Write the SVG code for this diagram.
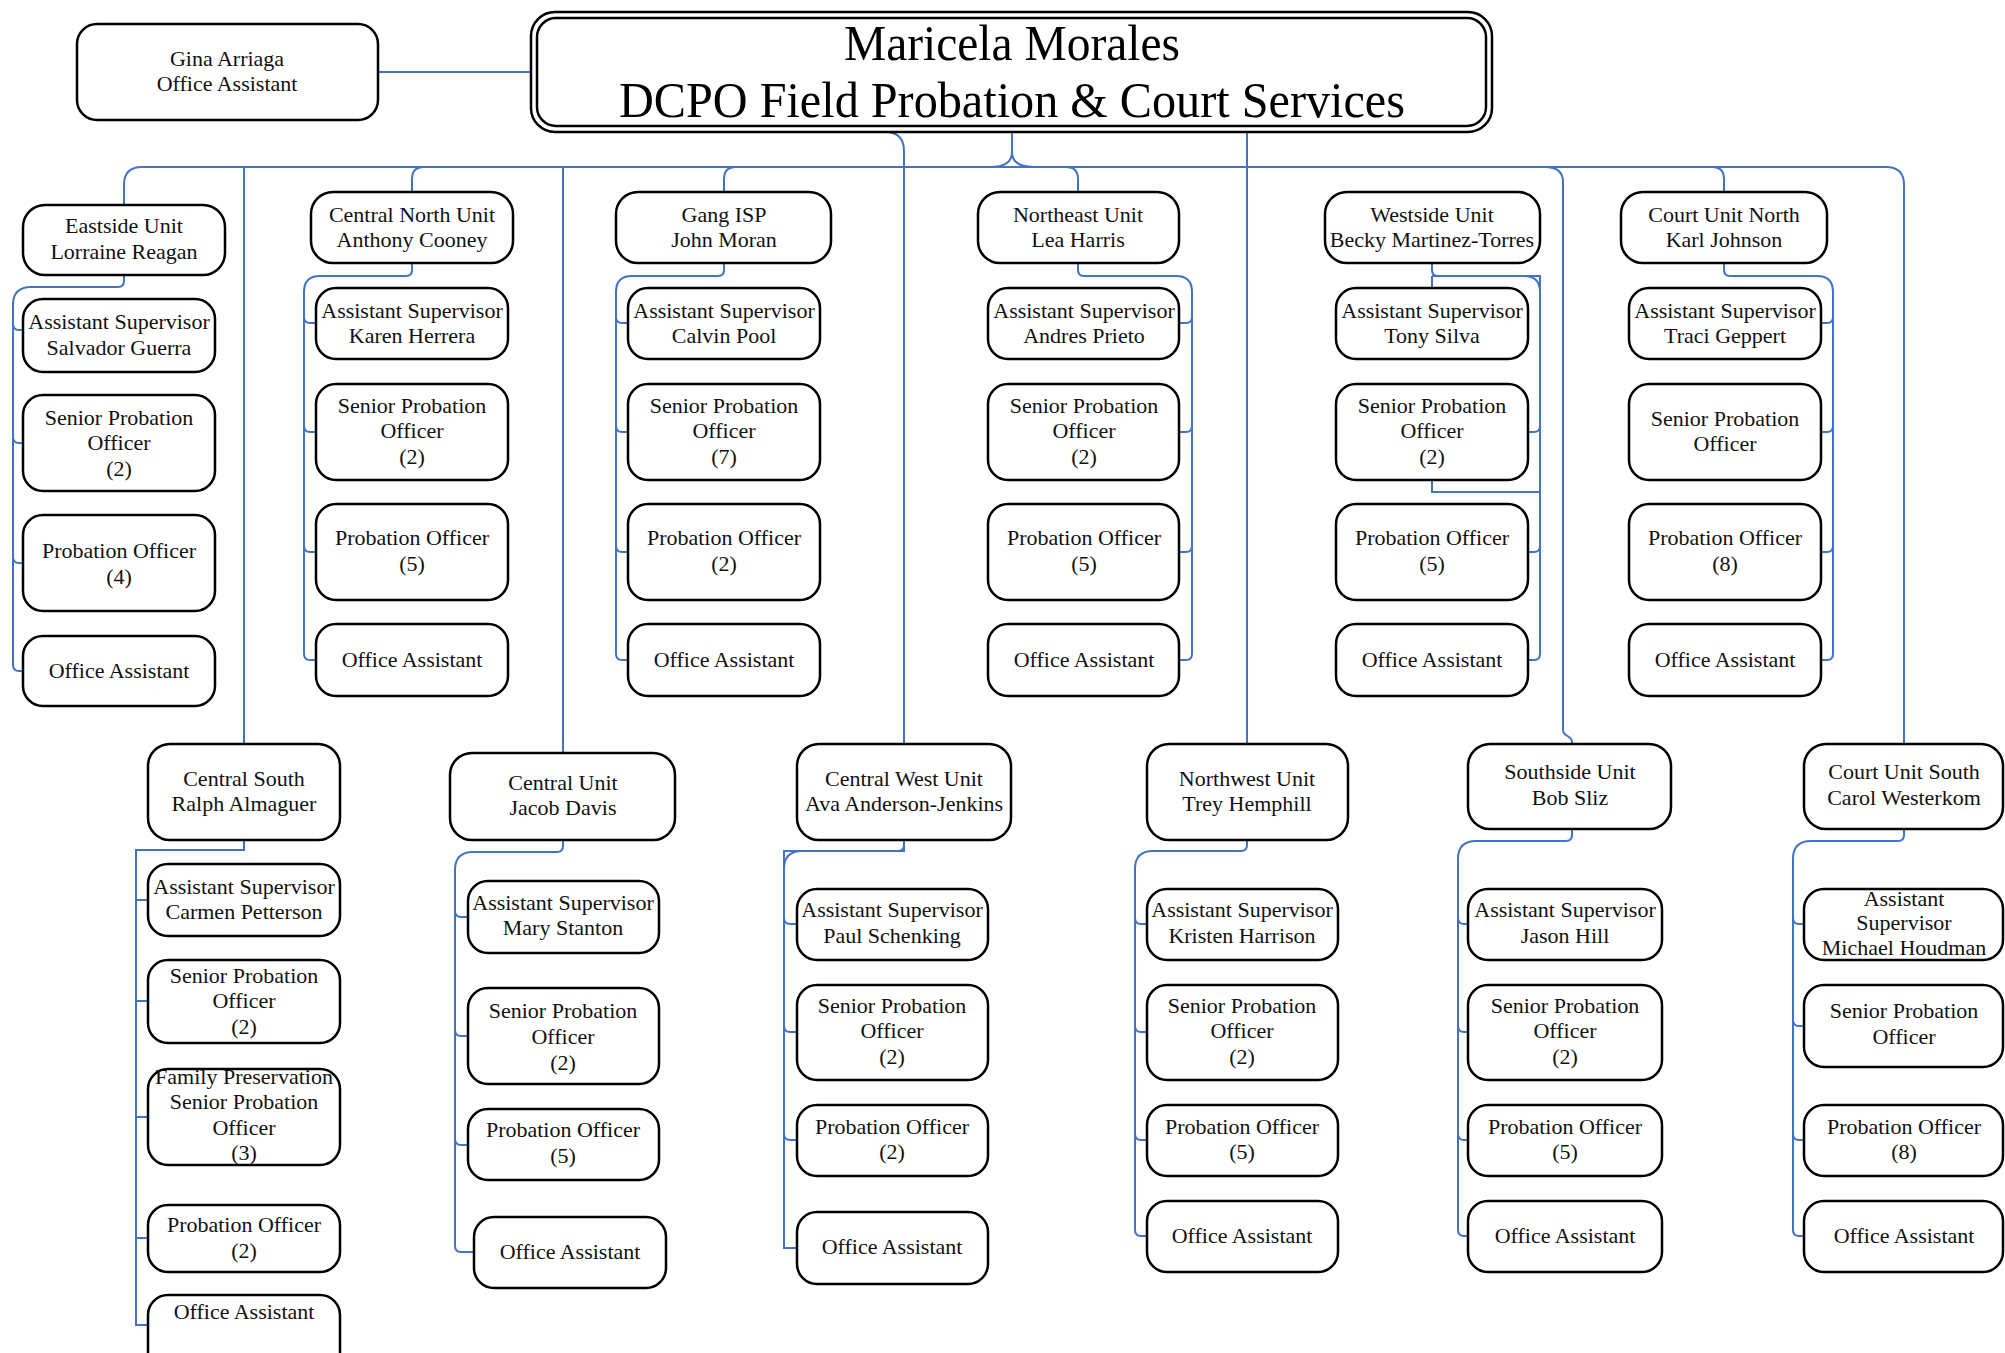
<svg xmlns="http://www.w3.org/2000/svg" width="2005" height="1353" viewBox="0 0 2005 1353">
<style>
.b{fill:#fff;stroke:#000;stroke-width:2.5}
.t{font-family:"Liberation Serif","Times New Roman",serif;font-size:22px;text-anchor:middle;fill:#111}
.h{font-family:"Liberation Serif","Times New Roman",serif;font-size:50px;text-anchor:middle;fill:#000}
.c{fill:none;stroke:#4472C4;stroke-width:2}
</style>
<rect width="2005" height="1353" fill="#fff"/>
<g id="connectors" class="c">
<path d="M378,72 H531"/>
<path d="M124,205 V185 Q124,167 142,167 H1886 Q1904,167 1904,185 V744"/>
<path d="M1545,167 Q1563,167 1563,182 V730 C1563,737 1572,735 1572,742 V744"/>
<path d="M244,167 V744"/>
<path d="M563,167 V753"/>
<path d="M424,167 Q412,167 412,179 V192"/>
<path d="M736,167 Q724,167 724,179 V192"/>
<path d="M1066,167 Q1078,167 1078,179 V192"/>
<path d="M1712,167 Q1724,167 1724,179 V192"/>
<path d="M990,167 Q1012,167 1012,152 V132 M1034,167 Q1012,167 1012,152"/>
<path d="M560,132 H885 Q904,132 904,151 V744"/>
<path d="M1247,132 V744"/>
<!-- Eastside -->
<path d="M124,275 V281 Q124,287 118,287 H31 Q13,287 13,305 V665 Q13,671 19,671 H23"/>
<path d="M13,324 Q13,330 19,330 H23 M13,437 Q13,443 19,443 H23 M13,557 Q13,563 19,563 H23"/>
<!-- Central North -->
<path d="M412,263 V270 Q412,276 406,276 H320 Q304,276 304,292 V654 Q304,660 310,660 H316"/>
<path d="M304,317 Q304,323 310,323 H316 M304,426 Q304,432 310,432 H316 M304,546 Q304,552 310,552 H316"/>
<!-- Gang -->
<path d="M724,263 V270 Q724,276 718,276 H632 Q616,276 616,292 V654 Q616,660 622,660 H628"/>
<path d="M616,317 Q616,323 622,323 H628 M616,426 Q616,432 622,432 H628 M616,546 Q616,552 622,552 H628"/>
<!-- Northeast -->
<path d="M1078,263 V270 Q1078,276 1084,276 H1176 Q1192,276 1192,292 V654 Q1192,660 1186,660 H1179"/>
<path d="M1192,317 Q1192,323 1186,323 H1179 M1192,426 Q1192,432 1186,432 H1179 M1192,546 Q1192,552 1186,552 H1179"/>
<!-- Westside -->
<path d="M1432,263 V270 Q1432,276 1438,276 H1524 Q1540,276 1540,292"/>
<path d="M1432,276 V288 M1432,276 H1540 V654 Q1540,660 1534,660 H1528"/>
<path d="M1432,480 V492 H1540"/>
<path d="M1540,426 Q1540,432 1534,432 H1528 M1540,546 Q1540,552 1534,552 H1528"/>
<!-- Court North -->
<path d="M1724,263 V270 Q1724,276 1730,276 H1817 Q1833,276 1833,292 V654 Q1833,660 1827,660 H1821"/>
<path d="M1833,317 Q1833,323 1827,323 H1821 M1833,426 Q1833,432 1827,432 H1821 M1833,546 Q1833,552 1827,552 H1821"/>
<!-- Central South -->
<path d="M244,840 V850 H136 V1325 H148"/>
<path d="M136,900 H148 M136,1001 H148 M136,1117 H148 M136,1238 H148"/>
<!-- Central Unit -->
<path d="M563,840 V846 Q563,852 557,852 H473 Q455,852 455,870 V1246 Q455,1252 461,1252 H474"/>
<path d="M455,911 Q455,917 461,917 H468 M455,1030 Q455,1036 461,1036 H468 M455,1139 Q455,1145 461,1145 H468"/>
<!-- Central West -->
<path d="M904,840 V851 H784 V1248 H797"/>
<path d="M904,845 Q904,851 898,851 H802 Q784,851 784,869"/>
<path d="M784,918 Q784,924 790,924 H797 M784,1026 Q784,1032 790,1032 H797 M784,1134 Q784,1140 790,1140 H797"/>
<!-- Northwest -->
<path d="M1247,840 V845 Q1247,851 1241,851 H1153 Q1135,851 1135,869 V1230 Q1135,1236 1141,1236 H1147"/>
<path d="M1135,918 Q1135,924 1141,924 H1147 M1135,1026 Q1135,1032 1141,1032 H1147 M1135,1134 Q1135,1140 1141,1140 H1147"/>
<!-- Southside -->
<path d="M1572,829 V835 Q1572,841 1566,841 H1476 Q1458,841 1458,859 V1230 Q1458,1236 1464,1236 H1468"/>
<path d="M1458,918 Q1458,924 1464,924 H1468 M1458,1026 Q1458,1032 1464,1032 H1468 M1458,1134 Q1458,1140 1464,1140 H1468"/>
<!-- Court South -->
<path d="M1904,829 V835 Q1904,841 1898,841 H1811 Q1793,841 1793,859 V1230 Q1793,1236 1799,1236 H1804"/>
<path d="M1793,918 Q1793,924 1799,924 H1804 M1793,1020 Q1793,1026 1799,1026 H1804 M1793,1134 Q1793,1140 1799,1140 H1804"/>
</g>

<g id="director">
<rect class="b" x="531" y="12" width="961" height="120" rx="24"/>
<rect class="b" x="537" y="18" width="949" height="108" rx="19"/>
<text class="h" x="1012" y="60" textLength="336" lengthAdjust="spacingAndGlyphs">Maricela Morales</text>
<text class="h" x="1012" y="117" textLength="786" lengthAdjust="spacingAndGlyphs">DCPO Field Probation &amp; Court Services</text>
</g>
<g id="gina"><rect class="b" x="77" y="24" width="301" height="96" rx="20"/>
<text class="t" x="227" y="66">Gina Arriaga</text><text class="t" x="227" y="91">Office Assistant</text></g>

<!-- Eastside column -->
<g id="eastside"><rect class="b" x="23" y="205" width="202" height="70" rx="22"/>
<text class="t" x="124" y="233">Eastside Unit</text><text class="t" x="124" y="259">Lorraine Reagan</text></g>
<g id="eastside-as"><rect class="b" x="23" y="299" width="192" height="73" rx="20"/>
<text class="t" x="119" y="329">Assistant Supervisor</text><text class="t" x="119" y="355">Salvador Guerra</text></g>
<g id="eastside-spo"><rect class="b" x="23" y="395" width="192" height="96" rx="20"/>
<text class="t" x="119" y="425">Senior Probation</text><text class="t" x="119" y="450">Officer</text><text class="t" x="119" y="476">(2)</text></g>
<g id="eastside-po"><rect class="b" x="23" y="515" width="192" height="96" rx="20"/>
<text class="t" x="119" y="558">Probation Officer</text><text class="t" x="119" y="584">(4)</text></g>
<g id="eastside-oa"><rect class="b" x="23" y="636" width="192" height="70" rx="20"/>
<text class="t" x="119" y="678">Office Assistant</text></g>

<!-- Central North -->
<g id="centralnorth"><rect class="b" x="311" y="192" width="202" height="71" rx="22"/>
<text class="t" x="412" y="222">Central North Unit</text><text class="t" x="412" y="247">Anthony Cooney</text></g>
<g id="centralnorth-as"><rect class="b" x="316" y="288" width="192" height="71" rx="20"/>
<text class="t" x="412" y="318">Assistant Supervisor</text><text class="t" x="412" y="343">Karen Herrera</text></g>
<g id="centralnorth-spo"><rect class="b" x="316" y="384" width="192" height="96" rx="20"/>
<text class="t" x="412" y="413">Senior Probation</text><text class="t" x="412" y="438">Officer</text><text class="t" x="412" y="464">(2)</text></g>
<g id="centralnorth-po"><rect class="b" x="316" y="504" width="192" height="96" rx="20"/>
<text class="t" x="412" y="545">Probation Officer</text><text class="t" x="412" y="571">(5)</text></g>
<g id="centralnorth-oa"><rect class="b" x="316" y="624" width="192" height="72" rx="20"/>
<text class="t" x="412" y="667">Office Assistant</text></g>

<!-- Gang ISP -->
<g id="gang"><rect class="b" x="616" y="192" width="215" height="71" rx="22"/>
<text class="t" x="724" y="222">Gang ISP</text><text class="t" x="724" y="247">John Moran</text></g>
<g id="gang-as"><rect class="b" x="628" y="288" width="192" height="71" rx="20"/>
<text class="t" x="724" y="318">Assistant Supervisor</text><text class="t" x="724" y="343">Calvin Pool</text></g>
<g id="gang-spo"><rect class="b" x="628" y="384" width="192" height="96" rx="20"/>
<text class="t" x="724" y="413">Senior Probation</text><text class="t" x="724" y="438">Officer</text><text class="t" x="724" y="464">(7)</text></g>
<g id="gang-po"><rect class="b" x="628" y="504" width="192" height="96" rx="20"/>
<text class="t" x="724" y="545">Probation Officer</text><text class="t" x="724" y="571">(2)</text></g>
<g id="gang-oa"><rect class="b" x="628" y="624" width="192" height="72" rx="20"/>
<text class="t" x="724" y="667">Office Assistant</text></g>

<!-- Northeast -->
<g id="northeast"><rect class="b" x="978" y="192" width="201" height="71" rx="22"/>
<text class="t" x="1078" y="222">Northeast Unit</text><text class="t" x="1078" y="247">Lea Harris</text></g>
<g id="northeast-as"><rect class="b" x="988" y="288" width="191" height="71" rx="20"/>
<text class="t" x="1084" y="318">Assistant Supervisor</text><text class="t" x="1084" y="343">Andres Prieto</text></g>
<g id="northeast-spo"><rect class="b" x="988" y="384" width="191" height="96" rx="20"/>
<text class="t" x="1084" y="413">Senior Probation</text><text class="t" x="1084" y="438">Officer</text><text class="t" x="1084" y="464">(2)</text></g>
<g id="northeast-po"><rect class="b" x="988" y="504" width="191" height="96" rx="20"/>
<text class="t" x="1084" y="545">Probation Officer</text><text class="t" x="1084" y="571">(5)</text></g>
<g id="northeast-oa"><rect class="b" x="988" y="624" width="191" height="72" rx="20"/>
<text class="t" x="1084" y="667">Office Assistant</text></g>

<!-- Westside -->
<g id="westside"><rect class="b" x="1325" y="192" width="215" height="71" rx="22"/>
<text class="t" x="1432" y="222">Westside Unit</text><text class="t" x="1432" y="247">Becky Martinez-Torres</text></g>
<g id="westside-as"><rect class="b" x="1336" y="288" width="192" height="71" rx="20"/>
<text class="t" x="1432" y="318">Assistant Supervisor</text><text class="t" x="1432" y="343">Tony Silva</text></g>
<g id="westside-spo"><rect class="b" x="1336" y="384" width="192" height="96" rx="20"/>
<text class="t" x="1432" y="413">Senior Probation</text><text class="t" x="1432" y="438">Officer</text><text class="t" x="1432" y="464">(2)</text></g>
<g id="westside-po"><rect class="b" x="1336" y="504" width="192" height="96" rx="20"/>
<text class="t" x="1432" y="545">Probation Officer</text><text class="t" x="1432" y="571">(5)</text></g>
<g id="westside-oa"><rect class="b" x="1336" y="624" width="192" height="72" rx="20"/>
<text class="t" x="1432" y="667">Office Assistant</text></g>

<!-- Court Unit North -->
<g id="courtnorth"><rect class="b" x="1621" y="192" width="206" height="71" rx="22"/>
<text class="t" x="1724" y="222">Court Unit North</text><text class="t" x="1724" y="247">Karl Johnson</text></g>
<g id="courtnorth-as"><rect class="b" x="1629" y="288" width="192" height="71" rx="20"/>
<text class="t" x="1725" y="318">Assistant Supervisor</text><text class="t" x="1725" y="343">Traci Geppert</text></g>
<g id="courtnorth-spo"><rect class="b" x="1629" y="384" width="192" height="96" rx="20"/>
<text class="t" x="1725" y="426">Senior Probation</text><text class="t" x="1725" y="451">Officer</text></g>
<g id="courtnorth-po"><rect class="b" x="1629" y="504" width="192" height="96" rx="20"/>
<text class="t" x="1725" y="545">Probation Officer</text><text class="t" x="1725" y="571">(8)</text></g>
<g id="courtnorth-oa"><rect class="b" x="1629" y="624" width="192" height="72" rx="20"/>
<text class="t" x="1725" y="667">Office Assistant</text></g>

<!-- Central South -->
<g id="centralsouth"><rect class="b" x="148" y="744" width="192" height="96" rx="22"/>
<text class="t" x="244" y="786">Central South</text><text class="t" x="244" y="811">Ralph Almaguer</text></g>
<g id="centralsouth-as"><rect class="b" x="148" y="864" width="192" height="72" rx="20"/>
<text class="t" x="244" y="894">Assistant Supervisor</text><text class="t" x="244" y="919">Carmen Petterson</text></g>
<g id="centralsouth-spo"><rect class="b" x="148" y="960" width="192" height="83" rx="20"/>
<text class="t" x="244" y="983">Senior Probation</text><text class="t" x="244" y="1008">Officer</text><text class="t" x="244" y="1034">(2)</text></g>
<g id="centralsouth-fp"><rect class="b" x="148" y="1069" width="192" height="96" rx="20"/>
<text class="t" x="244" y="1084">Family Preservation</text><text class="t" x="244" y="1109">Senior Probation</text><text class="t" x="244" y="1135">Officer</text><text class="t" x="244" y="1160">(3)</text></g>
<g id="centralsouth-po"><rect class="b" x="148" y="1205" width="192" height="67" rx="20"/>
<text class="t" x="244" y="1232">Probation Officer</text><text class="t" x="244" y="1258">(2)</text></g>
<g id="centralsouth-oa"><rect class="b" x="148" y="1295" width="192" height="90" rx="20"/>
<text class="t" x="244" y="1319">Office Assistant</text></g>

<!-- Central Unit -->
<g id="centralunit"><rect class="b" x="450" y="753" width="225" height="87" rx="22"/>
<text class="t" x="563" y="790">Central Unit</text><text class="t" x="563" y="815">Jacob Davis</text></g>
<g id="centralunit-as"><rect class="b" x="468" y="881" width="191" height="72" rx="20"/>
<text class="t" x="563" y="910">Assistant Supervisor</text><text class="t" x="563" y="935">Mary Stanton</text></g>
<g id="centralunit-spo"><rect class="b" x="468" y="988" width="191" height="96" rx="20"/>
<text class="t" x="563" y="1018">Senior Probation</text><text class="t" x="563" y="1044">Officer</text><text class="t" x="563" y="1070">(2)</text></g>
<g id="centralunit-po"><rect class="b" x="468" y="1109" width="191" height="71" rx="20"/>
<text class="t" x="563" y="1137">Probation Officer</text><text class="t" x="563" y="1163">(5)</text></g>
<g id="centralunit-oa"><rect class="b" x="474" y="1217" width="192" height="71" rx="20"/>
<text class="t" x="570" y="1259">Office Assistant</text></g>

<!-- Central West -->
<g id="centralwest"><rect class="b" x="797" y="744" width="214" height="96" rx="22"/>
<text class="t" x="904" y="786">Central West Unit</text><text class="t" x="904" y="811">Ava Anderson-Jenkins</text></g>
<g id="centralwest-as"><rect class="b" x="797" y="889" width="191" height="71" rx="20"/>
<text class="t" x="892" y="917">Assistant Supervisor</text><text class="t" x="892" y="943">Paul Schenking</text></g>
<g id="centralwest-spo"><rect class="b" x="797" y="985" width="191" height="95" rx="20"/>
<text class="t" x="892" y="1013">Senior Probation</text><text class="t" x="892" y="1038">Officer</text><text class="t" x="892" y="1064">(2)</text></g>
<g id="centralwest-po"><rect class="b" x="797" y="1105" width="191" height="71" rx="20"/>
<text class="t" x="892" y="1134">Probation Officer</text><text class="t" x="892" y="1159">(2)</text></g>
<g id="centralwest-oa"><rect class="b" x="797" y="1212" width="191" height="72" rx="20"/>
<text class="t" x="892" y="1254">Office Assistant</text></g>

<!-- Northwest -->
<g id="northwest"><rect class="b" x="1147" y="744" width="201" height="96" rx="22"/>
<text class="t" x="1247" y="786">Northwest Unit</text><text class="t" x="1247" y="811">Trey Hemphill</text></g>
<g id="northwest-as"><rect class="b" x="1147" y="889" width="191" height="71" rx="20"/>
<text class="t" x="1242" y="917">Assistant Supervisor</text><text class="t" x="1242" y="943">Kristen Harrison</text></g>
<g id="northwest-spo"><rect class="b" x="1147" y="985" width="191" height="95" rx="20"/>
<text class="t" x="1242" y="1013">Senior Probation</text><text class="t" x="1242" y="1038">Officer</text><text class="t" x="1242" y="1064">(2)</text></g>
<g id="northwest-po"><rect class="b" x="1147" y="1105" width="191" height="71" rx="20"/>
<text class="t" x="1242" y="1134">Probation Officer</text><text class="t" x="1242" y="1159">(5)</text></g>
<g id="northwest-oa"><rect class="b" x="1147" y="1201" width="191" height="71" rx="20"/>
<text class="t" x="1242" y="1243">Office Assistant</text></g>

<!-- Southside -->
<g id="southside"><rect class="b" x="1468" y="744" width="203" height="85" rx="22"/>
<text class="t" x="1570" y="779">Southside Unit</text><text class="t" x="1570" y="805">Bob Sliz</text></g>
<g id="southside-as"><rect class="b" x="1468" y="889" width="194" height="71" rx="20"/>
<text class="t" x="1565" y="917">Assistant Supervisor</text><text class="t" x="1565" y="943">Jason Hill</text></g>
<g id="southside-spo"><rect class="b" x="1468" y="985" width="194" height="95" rx="20"/>
<text class="t" x="1565" y="1013">Senior Probation</text><text class="t" x="1565" y="1038">Officer</text><text class="t" x="1565" y="1064">(2)</text></g>
<g id="southside-po"><rect class="b" x="1468" y="1105" width="194" height="71" rx="20"/>
<text class="t" x="1565" y="1134">Probation Officer</text><text class="t" x="1565" y="1159">(5)</text></g>
<g id="southside-oa"><rect class="b" x="1468" y="1201" width="194" height="71" rx="20"/>
<text class="t" x="1565" y="1243">Office Assistant</text></g>

<!-- Court Unit South -->
<g id="courtsouth"><rect class="b" x="1804" y="744" width="199" height="85" rx="22"/>
<text class="t" x="1904" y="779">Court Unit South</text><text class="t" x="1904" y="805">Carol Westerkom</text></g>
<g id="courtsouth-as"><rect class="b" x="1804" y="889" width="199" height="71" rx="20"/>
<text class="t" x="1904" y="906">Assistant</text><text class="t" x="1904" y="930">Supervisor</text><text class="t" x="1904" y="955">Michael Houdman</text></g>
<g id="courtsouth-spo"><rect class="b" x="1804" y="985" width="199" height="82" rx="20"/>
<text class="t" x="1904" y="1018">Senior Probation</text><text class="t" x="1904" y="1044">Officer</text></g>
<g id="courtsouth-po"><rect class="b" x="1804" y="1105" width="199" height="71" rx="20"/>
<text class="t" x="1904" y="1134">Probation Officer</text><text class="t" x="1904" y="1159">(8)</text></g>
<g id="courtsouth-oa"><rect class="b" x="1804" y="1201" width="199" height="71" rx="20"/>
<text class="t" x="1904" y="1243">Office Assistant</text></g>
</svg>
